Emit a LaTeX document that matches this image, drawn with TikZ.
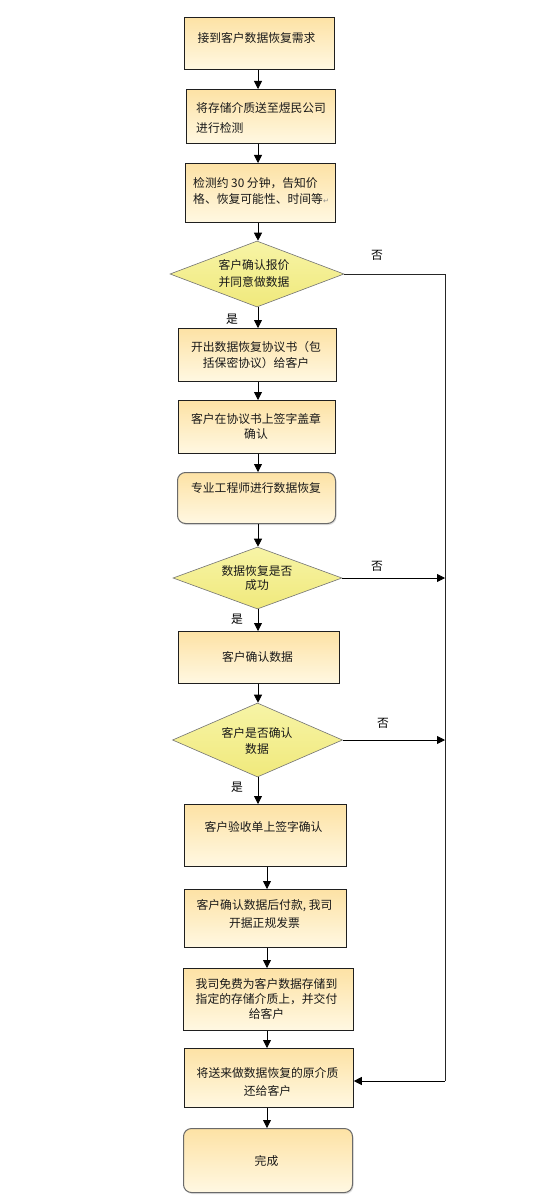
\documentclass[tikz,border=0pt]{standalone}
\usepackage{fontspec}
\newfontfamily\cjk{Noto Sans CJK SC}
\newfontfamily\djv{DejaVu Sans}
\usetikzlibrary{arrows.meta,shapes.geometric,shadows}
\definecolor{boxtop}{HTML}{FDE2A5}
\definecolor{boxbot}{HTML}{FFF8E2}
\definecolor{diatop}{HTML}{F7F4A6}
\definecolor{diabot}{HTML}{F0E97C}
\definecolor{rline}{HTML}{6A6A6A}
\begin{document}
\begin{tikzpicture}[x=1pt,y=-1pt,
  box/.style={draw=black!88, line width=0.8pt, top color=boxtop, bottom color=boxbot,
    inner sep=0pt, anchor=north west},
  rbox/.style={box, draw=rline, line width=1pt, rounded corners=8pt,
    drop shadow={opacity=0.25, shadow xshift=1pt, shadow yshift=-1.5pt}},
  dia/.style={diamond, draw=black!55, line width=0.6pt, top color=diatop, bottom color=diabot,
    inner sep=0pt},
  txt/.style={font=\cjk\fontsize{11.8}{#1}\selectfont, text=black!90, align=center, inner sep=0pt},
  txt/.default=16,
  lab/.style={font=\cjk\fontsize{11.8}{14}\selectfont, text=black, inner sep=0pt},
  arr/.style={draw=black, line width=0.8pt, -{Triangle[width=8pt,length=8pt]}},
  ln/.style={draw=black!85, line width=0.8pt}
]
\useasboundingbox[fill=white] (0,0) rectangle (550,1201);

% boxes
\node[box, minimum width=150pt, minimum height=52pt] (b1) at (184,17) {};
\node[box, minimum width=149pt, minimum height=54pt] (b2) at (186,89) {};
\node[box, minimum width=150pt, minimum height=59pt] (b3) at (185,163) {};
\node[dia, minimum width=174pt, minimum height=66pt] (d1) at (257,274) {};
\node[box, minimum width=158pt, minimum height=53pt] (b4) at (178,328) {};
\node[box, minimum width=157pt, minimum height=53pt] (b5) at (178,400) {};
\node[rbox, minimum width=158pt, minimum height=51pt] (b6) at (177,472) {};
\node[dia, minimum width=169pt, minimum height=62pt] (d2) at (257.5,578) {};
\node[box, minimum width=161pt, minimum height=52pt] (b7) at (178,631) {};
\node[dia, minimum width=170pt, minimum height=74pt] (d3) at (257.5,740) {};
\node[box, minimum width=162pt, minimum height=62pt] (b8) at (184,804) {};
\node[box, minimum width=162pt, minimum height=58pt] (b9) at (184,889) {};
\node[box, minimum width=170pt, minimum height=62pt] (b10) at (183,968) {};
\node[box, minimum width=169pt, minimum height=59pt] (b11) at (184,1048) {};
\node[rbox, minimum width=169pt, minimum height=64pt] (b12) at (183,1128) {};

% texts
\node[txt] (t1) at (256.5,38) {接到客户数据恢复需求};
\node[txt=20, align=left, anchor=west] (t2) at (196,118) {将存储介质送至煜民公司\\进行检测};
\node[txt=16.5, align=left, anchor=west] (t3) at (193,191) {检测约 30 分钟，告知价\\格、恢复可能性、时间等{\djv\fontsize{7}{8}\selectfont\color{black!45}↵}};
\node[txt=17] (td1) at (254,273.5) {客户确认报价\\并同意做数据};
\node[txt=16] (t4) at (256,355) {开出数据恢复协议书（包\\括保密协议）给客户};
\node[txt=15.5] (t5) at (256,426.5) {客户在协议书上签字盖章\\确认};
\node[txt] (t6) at (256,488) {专业工程师进行数据恢复};
\node[txt=14] (td2) at (257,578.5) {数据恢复是否\\成功};
\node[txt] (t7) at (257.5,657) {客户确认数据};
\node[txt=16] (td3) at (257,741) {客户是否确认\\数据};
\node[txt] (t8) at (263.5,827) {客户验收单上签字确认};
\node[txt=18] (t9) at (264.5,914) {客户确认数据后付款, 我司\\开据正规发票};
\node[txt=15] (t10) at (266.5,999) {我司免费为客户数据存储到\\指定的存储介质上，并交付\\给客户};
\node[txt=18] (t11) at (267.5,1082) {将送来做数据恢复的原介质\\还给客户};
\node[txt] (t12) at (266.5,1161) {完成};

% yes / no labels
\node[lab] (n1) at (377,255) {否};
\node[lab] (n2) at (377,566) {否};
\node[lab] (n3) at (383,723) {否};
\node[lab] (y1) at (232,319) {是};
\node[lab] (y2) at (237,619) {是};
\node[lab] (y3) at (237,787) {是};

% axes
\coordinate (ax) at (258,0);
\coordinate (bx) at (267,0);
\coordinate (rx) at (445,0);
\coordinate (corner) at (445,1081);

% main flow
\draw[arr] (b1.south -| ax) -- (b2.north -| ax);
\draw[arr] (b2.south -| ax) -- (b3.north -| ax);
\draw[arr] (b3.south -| ax) -- (d1.north -| ax);
\draw[arr] (d1.south -| ax) -- (b4.north -| ax);
\draw[arr] (b4.south -| ax) -- (b5.north -| ax);
\draw[arr] (b5.south -| ax) -- (b6.north -| ax);
\draw[arr] (b6.south -| ax) -- (d2.north -| ax);
\draw[arr] (d2.south -| ax) -- (b7.north -| ax);
\draw[arr] (b7.south -| ax) -- (d3.north -| ax);
\draw[arr] (d3.south -| ax) -- (b8.north -| ax);
\draw[arr] (b8.south -| bx) -- (b9.north -| bx);
\draw[arr] (b9.south -| bx) -- (b10.north -| bx);
\draw[arr] (b10.south -| bx) -- (b11.north -| bx);
\draw[arr] (b11.south -| bx) -- (b12.north -| bx);

% "no" branches
\draw[ln] (d1.east) -- (d1.east -| rx) -- (corner);
\draw[arr] (corner) -- (b11.east |- corner);
\draw[arr] (d2.east) -- (d2.east -| rx);
\draw[arr] (d3.east) -- (d3.east -| rx);
\end{tikzpicture}
\end{document}
